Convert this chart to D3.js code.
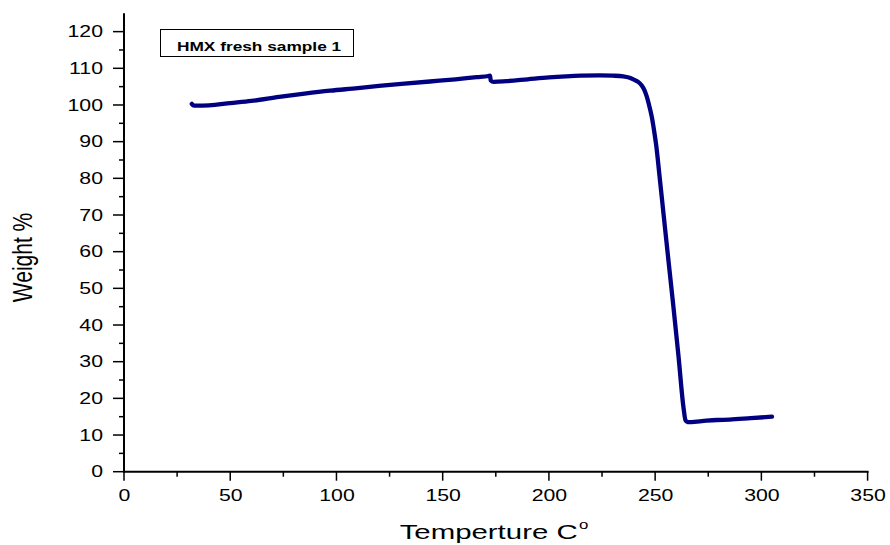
<!DOCTYPE html>
<html><head><meta charset="utf-8">
<script src="https://cdn.jsdelivr.net/npm/d3@7"></script>
<style>body{margin:0;background:#fff}svg{display:block}text{font-family:"Liberation Sans",Arial,sans-serif}</style>
</head><body>
<script>
const temperature = [31.9,32.6,34,40,50,60,73,85,97,110,120,132,144,156,166,171.5,172.3,172.6,174,180,190,200,208,215,224,230,235,238,240,242,243.7,245,246,247,248.4,249.5,250.5,252,254,256,258.6,261,263.3,264.3,265.2,272,279,285,295,305];
const weight      = [100.3,99.9,99.8,99.9,100.5,101.1,102.2,103.1,103.9,104.6,105.2,105.8,106.4,107.0,107.6,107.9,108.0,106.7,106.3,106.5,107.0,107.5,107.8,108.0,108.1,108.0,107.8,107.4,106.9,106.3,105.3,104.0,102.4,100.3,96.8,93.0,89.0,81.0,70.0,59.0,45.0,31.5,17.7,14.0,13.5,13.8,14.1,14.2,14.6,15.0];
const xTicks = [0,50,100,150,200,250,300,350];
const yTicks = [0,10,20,30,40,50,60,70,80,90,100,110,120];
const legendLabel = "HMX fresh sample 1";
const xTitle = "Temperture C";
const yTitle = "Weight %";

const W = 890, H = 545;
const SX = 1.33; // horizontal glyph stretch seen in the reference
const svg = d3.select("body").append("svg").attr("width", W).attr("height", H);
const x = d3.scaleLinear().domain([0, 350]).range([124, 867.6]);
const y = d3.scaleLinear().domain([0, 125]).range([471.7, 13.3]);

// axes lines
svg.append("line").attr("x1", 124).attr("x2", 124).attr("y1", y(125)).attr("y2", y(0) + 1)
  .attr("stroke", "#000").attr("stroke-width", 2);
svg.append("line").attr("x1", 123).attr("x2", x(350) + 1).attr("y1", y(0)).attr("y2", y(0))
  .attr("stroke", "#000").attr("stroke-width", 2);

// y ticks
const yMinor = d3.range(5, 125, 10);
svg.selectAll(".ymaj").data(yTicks).enter().append("line")
  .attr("x1", 113).attr("x2", 124).attr("y1", d => y(d)).attr("y2", d => y(d))
  .attr("stroke", "#000").attr("stroke-width", 1.5);
svg.selectAll(".ymin").data(yMinor).enter().append("line")
  .attr("x1", 119).attr("x2", 124).attr("y1", d => y(d)).attr("y2", d => y(d))
  .attr("stroke", "#000").attr("stroke-width", 1.5);
svg.selectAll(".ylab").data(yTicks).enter().append("text")
  .attr("transform", d => `translate(103,${y(d) + 5.7}) scale(${SX},1)`)
  .attr("text-anchor", "end").attr("font-size", 16)
  .attr("fill", "#000").text(d => d);

// x ticks
const xMinor = d3.range(25, 350, 50);
svg.selectAll(".xmaj").data(xTicks).enter().append("line")
  .attr("x1", d => x(d)).attr("x2", d => x(d)).attr("y1", y(0)).attr("y2", y(0) + 9)
  .attr("stroke", "#000").attr("stroke-width", 1.5);
svg.selectAll(".xmin").data(xMinor).enter().append("line")
  .attr("x1", d => x(d)).attr("x2", d => x(d)).attr("y1", y(0)).attr("y2", y(0) + 5)
  .attr("stroke", "#000").attr("stroke-width", 1.5);
svg.selectAll(".xlab").data(xTicks).enter().append("text")
  .attr("transform", d => `translate(${x(d) + 0.5},500.5) scale(${SX},1)`)
  .attr("text-anchor", "middle").attr("font-size", 16)
  .attr("fill", "#000").text(d => d);

// titles
const xt = svg.append("text").attr("transform", `translate(494,539) scale(1.4,1)`).attr("text-anchor", "middle")
  .attr("font-size", 21).attr("fill", "#000");
xt.append("tspan").text(xTitle);
xt.append("tspan").attr("font-size", 12).attr("dx", 1).attr("dy", -10).text("o");
svg.append("text").attr("transform", `translate(32,257.5) rotate(-90) scale(1,${SX})`).attr("text-anchor", "middle")
  .attr("font-size", 21).attr("fill", "#000").text(yTitle);

// legend box
svg.append("rect").attr("x", 160.5).attr("y", 29.5).attr("width", 193).attr("height", 27)
  .attr("fill", "#fff").attr("stroke", "#000").attr("stroke-width", 1);
svg.append("text").attr("transform", `translate(177,50.7) scale(1.28,1)`).attr("font-size", 13.5).attr("font-weight", "bold")
  .attr("fill", "#000").text(legendLabel);

// curve
const data = temperature.map((t, i) => [t, weight[i]]);
svg.append("path").datum(data)
  .attr("d", d3.line().curve(d3.curveMonotoneX).x(d => x(d[0])).y(d => y(d[1])))
  .attr("fill", "none").attr("stroke", "#000080").attr("stroke-width", 4.3)
  .attr("stroke-linejoin", "round").attr("stroke-linecap", "round");
</script>
</body></html>
